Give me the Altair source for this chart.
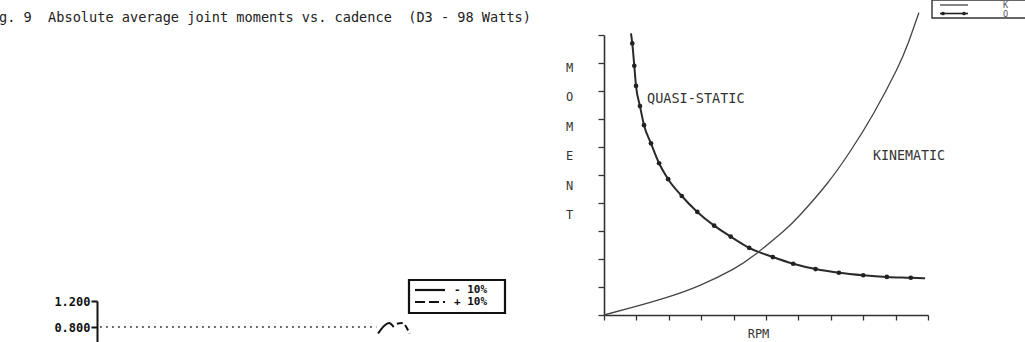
import altair as alt
import pandas as pd

# ---- right panel: joint moment against cadence -------------------------
main_ticks = list(range(11))

# quasi-static curve: plotted markers
q_rpm = [0.873, 0.935, 0.988, 1.11, 1.235, 1.45, 1.70, 1.98, 2.40, 2.88,
         3.40, 3.91, 4.48, 5.21, 5.84, 6.53, 7.25, 8.00, 8.73, 9.47]
q_moment = [9.70, 8.90, 8.18, 7.46, 6.78, 6.13, 5.42, 4.85, 4.25, 3.68,
            3.19, 2.80, 2.40, 2.07, 1.83, 1.64, 1.51, 1.42, 1.36, 1.33]
# the drawn curve runs a little past the first and last marker
q_line_rpm = [0.833] + q_rpm + [9.91]
q_line_moment = [10.06] + q_moment + [1.31]

# kinematic curve
k_rpm = [0, 0.90, 1.94, 2.96, 3.99, 4.71, 5.53, 6.05, 6.87, 7.59, 8.31, 9.03, 9.40, 9.72]
k_moment = [0, 0.28, 0.63, 1.06, 1.64, 2.20, 2.98, 3.57, 4.67, 5.83, 7.18, 8.75, 9.75, 10.80]

# ---- lower-left panel (partly shown) ------------------------------------
frag_ticks = [0.8, 1.2]
ref_cad = [1, 89]
ref_val = [0.8, 0.8]
minus_cad = [89.5, 91.5, 93.0, 94.5]
minus_val = [0.70, 0.82, 0.86, 0.80]
plus_cad = [95.5, 97.0, 98.5, 99.5]
plus_val = [0.85, 0.86, 0.80, 0.70]

NB = "\u00a0"
title_text = f"g. 9{NB}{NB}Absolute average joint moments vs. cadence{NB}{NB}(D3 - 98 Watts)"

INK = "#333333"
MONO = "DejaVu Sans Mono"

q_line_df = pd.DataFrame({"rpm": q_line_rpm, "moment": q_line_moment})
q_pts_df = pd.DataFrame({"rpm": q_rpm, "moment": q_moment})
k_df = pd.DataFrame({"rpm": k_rpm, "moment": k_moment})
one = pd.DataFrame({"a": [0]})

x_axis = alt.Axis(
    values=main_ticks, labels=False, grid=False, tickSize=5, labelOverlap=False,
    domainColor=INK, tickColor=INK, domainWidth=1.6, tickWidth=1.3,
    title="RPM", titleFont=MONO, titleFontSize=12, titleFontWeight="normal",
    titleColor=INK, titleX=154, titleY=18, titleBaseline="middle",
    titleAlign="center",
)
y_axis = alt.Axis(
    values=main_ticks, labels=False, grid=False, tickSize=6, labelOverlap=False,
    domainColor=INK, tickColor=INK, domainWidth=1.6, tickWidth=1.3,
    title=["M", "O", "M", "E", "N", "T"], titleAngle=0,
    titleFont=MONO, titleFontSize=12, titleFontWeight="normal",
    titleColor=INK, titleX=-35, titleY=27, titleAlign="center",
    titleBaseline="top", titleLineHeight=29.5,
)
x_scale = alt.Scale(domain=[0, 10], nice=False, zero=False)
y_scale = alt.Scale(domain=[0, 10], nice=False, zero=False)


def x_main():
    return alt.X("rpm:Q", scale=x_scale, axis=x_axis)


def y_main():
    return alt.Y("moment:Q", scale=y_scale, axis=y_axis)


q_line = alt.Chart(q_line_df).mark_line(
    color="#2a2a2a", strokeWidth=2, interpolate="monotone"
).encode(x=x_main(), y=y_main())
q_pts = alt.Chart(q_pts_df).mark_point(
    filled=True, color="#222222", size=22, opacity=1
).encode(x=x_main(), y=y_main())
k_line = alt.Chart(k_df).mark_line(
    color="#444444", strokeWidth=1.3, interpolate="natural"
).encode(x=x_main(), y=y_main())

main = alt.layer(q_line, q_pts, k_line)

# lower-left panel, placed with its own scales to the left of the main plot
x_frag = alt.X("cad:Q", scale=alt.Scale(domain=[0, 100], range=[-507, -193]), axis=None)
y_frag = alt.Y(
    "val:Q",
    scale=alt.Scale(domain=[0, 1.2], range=[344, 266], nice=False),
    axis=alt.Axis(
        orient="left", offset=507, values=frag_ticks, format=".3f", grid=False,
        title=None, tickSize=6, domainWidth=2, tickWidth=2,
        domainColor="#111111", tickColor="#111111",
        labelFont=MONO, labelFontSize=12, labelFontWeight="bold",
        labelColor="#111111", labelPadding=1,
    ),
)
ref_line = alt.Chart(pd.DataFrame({"cad": ref_cad, "val": ref_val})).mark_line(
    color="#111111", strokeWidth=1.6, strokeDash=[1.6, 4.4]
).encode(x=x_frag, y=y_frag)
minus_line = alt.Chart(pd.DataFrame({"cad": minus_cad, "val": minus_val})).mark_line(
    color="#111111", strokeWidth=2, interpolate="monotone"
).encode(x="cad:Q", y="val:Q")
plus_line = alt.Chart(pd.DataFrame({"cad": plus_cad, "val": plus_val})).mark_line(
    color="#111111", strokeWidth=2, strokeDash=[6, 3], interpolate="monotone"
).encode(x="cad:Q", y="val:Q")

frag = alt.layer(ref_line, minus_line, plus_line)


def label(text, x, y, size=13, weight="normal", color=INK, align="left", baseline="middle"):
    return alt.Chart(one).mark_text(
        font=MONO, fontSize=size, fontWeight=weight, color=color,
        align=align, baseline=baseline,
    ).encode(x=alt.value(x), y=alt.value(y), text=alt.value(text))


def box(x, x2, y, y2, width=1.4, color=INK):
    return alt.Chart(one).mark_rect(
        fill="transparent", stroke=color, strokeWidth=width
    ).encode(x=alt.value(x), x2=alt.value(x2), y=alt.value(y), y2=alt.value(y2))


def rule(x, x2, y, width=1.4, color=INK, dash=None):
    kw = {"color": color, "strokeWidth": width}
    if dash:
        kw["strokeDash"] = dash
    return alt.Chart(one).mark_rule(**kw).encode(
        x=alt.value(x), x2=alt.value(x2), y=alt.value(y)
    )


def dot(x, y):
    return alt.Chart(one).mark_point(filled=True, color="#222222", size=14, opacity=1).encode(
        x=alt.value(x), y=alt.value(y)
    )


decor = [
    label(title_text, -605, -17, size=13.6, color="#222222"),
    label("QUASI-STATIC", 43, 64, size=13.5),
    label("KINEMATIC", 269, 121, size=13.3),
    # legend of the main panel
    box(328, 430, -35, -17, width=1.4),
    rule(336, 364, -30, width=1.2),
    label("K", 399, -30, size=8.5, color="#555555"),
    rule(336, 364, -21.5, width=1.6, color="#222222"),
    dot(339, -21.5),
    dot(360, -21.5),
    label("Q", 399, -21, size=8.5, color="#555555"),
    # legend of the lower-left panel
    box(-195, -99, 245, 278, width=2.2, color="#111111"),
    rule(-189, -159, 255, width=2.2, color="#111111"),
    label("- 10%", -150, 255, size=11, weight="bold", color="#111111"),
    rule(-189, -159, 267, width=2.2, color="#111111", dash=[10, 4]),
    label("+ 10%", -150, 267, size=11, weight="bold", color="#111111"),
]

chart = alt.layer(main, frag, *decor).resolve_scale(
    x="independent", y="independent"
).properties(
    width=324,
    height=280,
    padding={"left": 604, "top": 35, "right": 97, "bottom": 27},
    autosize=alt.AutoSizeParams(type="none"),
    background="white",
).configure_view(stroke=None)

chart.save("out.html", embed_options={"renderer": "svg", "actions": False})
